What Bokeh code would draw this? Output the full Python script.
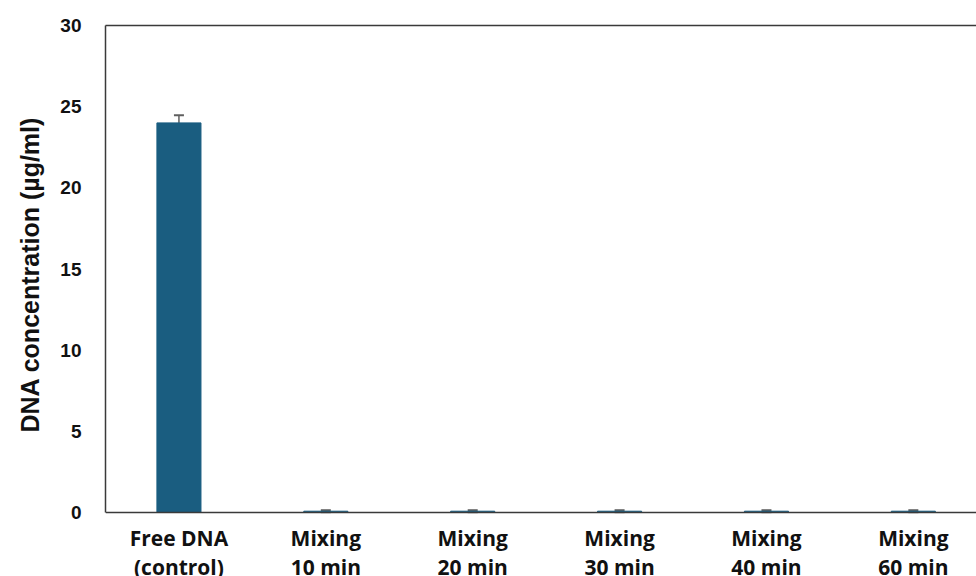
from bokeh.plotting import figure
from bokeh.models import (ColumnDataSource, Range1d, FixedTicker, LinearAxis,
                          Whisker, TeeHead, Span, Title)
from bokeh.core.properties import value
from bokeh.embed import file_html
from bokeh.resources import INLINE

# Sample groups, mean DNA concentration (µg/ml) and standard deviation
categories = ["Free DNA\n(control)", "Mixing\n10 min", "Mixing\n20 min",
              "Mixing\n30 min", "Mixing\n40 min", "Mixing\n60 min"]
concentration = [24.0, 0.08, 0.08, 0.08, 0.08, 0.08]
std_dev = [0.47, 0.06, 0.06, 0.06, 0.06, 0.06]
y_ticks = [0, 5, 10, 15, 20, 25, 30]

Y_MAX = 30
FRAME_TOP, ZERO_PX, FIG_H = 25, 512, 576
px_per_unit = (ZERO_PX - FRAME_TOP) / Y_MAX
# the frame runs down to the figure bottom so the category names can sit
# under the zero line; the y axis itself is bounded to 0..30
y_start = -(FIG_H - ZERO_PX) / px_per_unit

xs = list(range(len(categories)))
source = ColumnDataSource(data=dict(
    x=xs,
    top=concentration,
    upper=[c + s for c, s in zip(concentration, std_dev)],
    lower=[c - s for c, s in zip(concentration, std_dev)],
    name=categories,
    label_y=[-11 / px_per_unit] * len(categories),
))

p = figure(width=976, height=FIG_H, output_backend="svg", toolbar_location=None,
           x_range=Range1d(-0.5, 5.43), y_range=Range1d(y_start, Y_MAX),
           x_axis_type=None,
           min_border_left=105, min_border_right=0,
           min_border_top=FRAME_TOP, min_border_bottom=0)
p.outline_line_color = None
p.grid.grid_line_color = None
p.background_fill_color = "white"
p.border_fill_color = "white"

p.vbar(x="x", top="top", width=0.30, bottom=0, source=source,
       fill_color="#1a5d80", line_color="#1a5d80")

# baseline at zero
p.add_layout(Span(location=0, dimension="width", line_color="#3a3a3a",
                  line_width=1.5))

# standard deviation whiskers, drawn over the bars
err = Whisker(base="x", upper="upper", lower="lower", source=source,
              line_color="#5f5f5f", line_width=1.5,
              upper_head=TeeHead(size=10, line_color="#5f5f5f", line_width=2),
              lower_head=TeeHead(size=10, line_color="#5f5f5f", line_width=2))
p.add_layout(err)

# category names under the baseline
p.text(x="x", y="label_y", text="name", source=source,
       text_align="center", text_baseline="top",
       text_font=value("Open Sans"), text_font_style="bold",
       text_font_size="21px", text_color="#111111", text_line_height=1.05)

# y axis
yax = p.yaxis[0]
yax.bounds = (0, Y_MAX)
yax.ticker = FixedTicker(ticks=y_ticks)
yax.major_label_text_font = "Liberation Sans"
yax.major_label_text_font_style = "bold"
yax.major_label_text_font_size = "19px"
yax.major_label_text_color = "#111111"
yax.major_label_standoff = 18
yax.major_tick_line_color = None
yax.minor_tick_line_color = None
yax.axis_line_color = "#3a3a3a"
yax.axis_line_width = 1.5

# y axis title, anchored from the bottom of the panel so it sits beside
# the 0..30 span rather than the whole frame
y_title = Title(text="DNA concentration (µg/ml)", align="left",
                offset=144, standoff=27,
                text_font="Liberation Sans", text_font_style="bold",
                text_font_size="25px", text_color="#111111")
p.add_layout(y_title, "left")

# top frame line
top = LinearAxis(ticker=FixedTicker(ticks=[]), axis_line_color="#3a3a3a",
                 axis_line_width=1.5, major_tick_line_color=None,
                 minor_tick_line_color=None)
p.add_layout(top, "above")

open("out.html", "w").write(file_html(p, INLINE))
